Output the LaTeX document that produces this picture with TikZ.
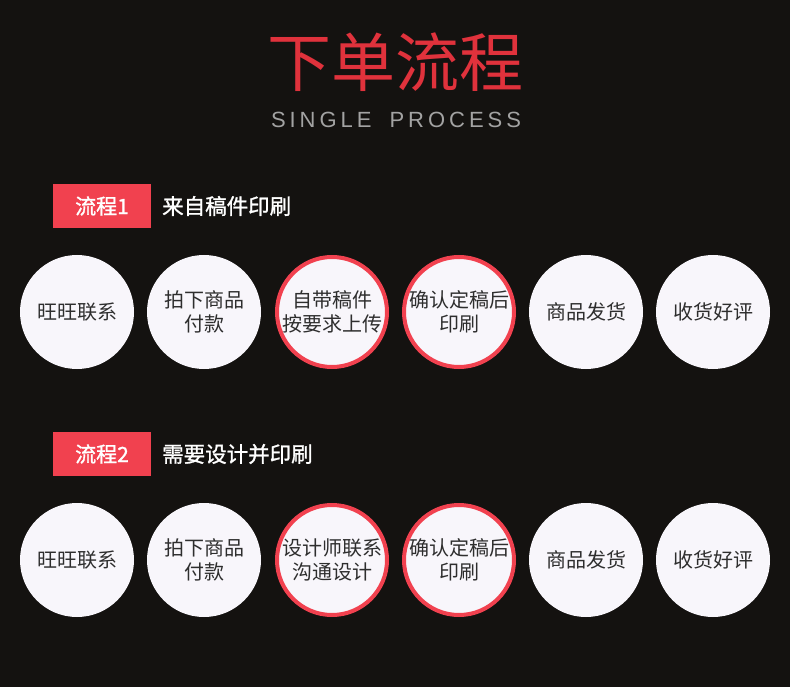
\documentclass[tikz,border=0pt]{standalone}
\usepackage{fontspec}
\setmainfont{Noto Sans CJK SC}
\newfontfamily\latinfont{Liberation Sans}[LetterSpace=18]
\newfontfamily\cjkmedium{Noto Sans CJK SC}[FakeBold=1.2]
\usetikzlibrary{positioning}

\definecolor{bgdark}{HTML}{141210}
\definecolor{tagred}{HTML}{F1414F}
\definecolor{titlered}{HTML}{E0323C}
\definecolor{subgray}{HTML}{A3A3A3}
\definecolor{disc}{HTML}{F8F6FB}
\definecolor{disctext}{HTML}{2E2E2E}

\tikzset{
  stepcircle/.style={circle,fill=disc,minimum size=114pt,inner sep=0pt,
    align=center,text=disctext,font=\fontsize{20}{24}\selectfont},
  keycircle/.style={stepcircle,draw=tagred,line width=4pt,minimum size=110pt},
  tagbox/.style={fill=tagred,text=white,minimum width=98pt,minimum height=44pt,
    inner sep=0pt,font=\cjkmedium\fontsize{21}{24}\selectfont},
  tagtext/.style={anchor=west,text=white,inner sep=0pt,font=\cjkmedium\fontsize{21.5}{24}\selectfont}
}

\begin{document}
\begin{tikzpicture}[x=1pt,y=-1pt]
  \fill[bgdark] (0,0) rectangle (790,687);
  % title
  \node[text=titlered,font=\fontsize{64}{70}\selectfont] (title) at (395,62) {下单流程};
  \node[text=subgray,font=\latinfont\fontsize{22}{24}\selectfont] (subtitle) at (396,120) {SINGLE\hspace{8pt} PROCESS};

  % flow 1
  \node[tagbox] (tag1) at (102,206) {流程1};
  \node[tagtext] (desc1) at (162,206) {来自稿件印刷};
  \foreach \x/\lab/\st [count=\i] in {77/旺旺联系/stepcircle,
      204/{拍下商品\\付款}/stepcircle,
      332/{自带稿件\\按要求上传}/keycircle,
      459/{确认定稿后\\印刷}/keycircle,
      586/商品发货/stepcircle,
      713/收货好评/stepcircle} {
    \node[\st] (a\i) at (\x,312) {\lab};
  }

  % flow 2
  \node[tagbox] (tag2) at (102,454) {流程2};
  \node[tagtext] (desc2) at (162,454) {需要设计并印刷};
  \foreach \x/\lab/\st [count=\i] in {77/旺旺联系/stepcircle,
      204/{拍下商品\\付款}/stepcircle,
      332/{设计师联系\\沟通设计}/keycircle,
      459/{确认定稿后\\印刷}/keycircle,
      586/商品发货/stepcircle,
      713/收货好评/stepcircle} {
    \node[\st] (b\i) at (\x,560) {\lab};
  }
\end{tikzpicture}
\end{document}
